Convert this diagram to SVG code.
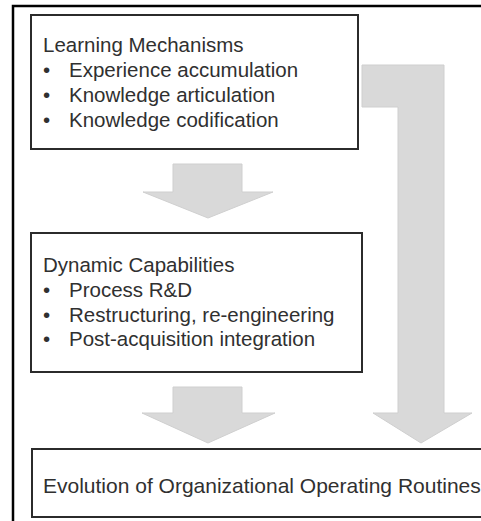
<svg xmlns="http://www.w3.org/2000/svg" width="481" height="521" viewBox="0 0 481 521">
<style>
.frame{fill:none;stroke:#000;stroke-width:2.5}
.box{fill:#fff;stroke:#2b2b2b;stroke-width:2}
.arrow{fill:#d9d9d9;stroke:#cfcfcf;stroke-width:1;stroke-linejoin:miter}
text{font-family:"Liberation Sans",Arial,sans-serif;font-size:20.5px;fill:#303030}
.big{font-size:21px}
</style>
<rect width="481" height="521" fill="#fff"/>
<rect class="frame" x="13" y="6" width="480" height="530"/>
<g id="connectors">
<polygon id="arrow-lm-dc" class="arrow" points="173,164 242,164 242,192 273,192 208,218 143,192 173,192"/>
<polygon id="arrow-dc-eor" class="arrow" points="173,387 242,387 242,413 275,413 208,443 142,413 173,413"/>
<polygon id="arrow-lm-eor" class="arrow" points="362,65 444,65 444,413 472,413 421,443 373,413 398,413 398,107 362,107"/>
</g>
<g id="learning-mechanisms">
<rect class="box" x="31" y="15" width="327" height="134"/>
<text x="43" y="52">Learning Mechanisms</text>
<text x="43" y="77">•</text><text x="69" y="77">Experience accumulation</text>
<text x="43" y="102">•</text><text x="69" y="102">Knowledge articulation</text>
<text x="43" y="127">•</text><text x="69" y="127">Knowledge codification</text>
</g>
<g id="dynamic-capabilities">
<rect class="box" x="31" y="233" width="331" height="139"/>
<text x="43" y="272">Dynamic Capabilities</text>
<text x="43" y="297">•</text><text x="69" y="297">Process R&amp;D</text>
<text x="43" y="322">•</text><text x="69" y="322">Restructuring, re-engineering</text>
<text x="43" y="346">•</text><text x="69" y="346">Post-acquisition integration</text>
</g>
<g id="evolution">
<rect class="box" x="32" y="449" width="470" height="68"/>
<text class="big" x="43" y="493">Evolution of Organizational Operating Routines</text>
</g>
</svg>
